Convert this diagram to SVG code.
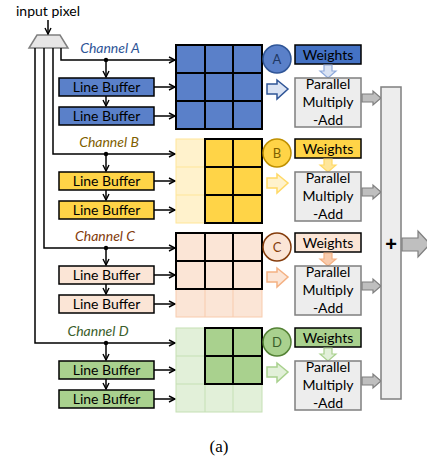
<svg xmlns="http://www.w3.org/2000/svg" width="427" height="462" viewBox="0 0 427 462">
<defs>
<marker id="ah" markerWidth="8" markerHeight="8" refX="7" refY="4" orient="auto" markerUnits="userSpaceOnUse">
<path d="M1,1 L7,4 L1,7" fill="none" stroke="#000" stroke-width="1.4"/>
</marker>
</defs>
<style>
text{font-family:Lato,"Liberation Sans",Arial,sans-serif;fill:#000}
.t{font-size:14px;text-anchor:middle}
.ch{font-size:14px;font-style:italic;text-anchor:middle}
.c{fill:none;stroke:#000;stroke-width:1.5}
.box{stroke:#000;stroke-width:1.5}
.gk{fill:none;stroke:#000;stroke-width:2}
.pma{fill:#EDEDED;stroke:#7F7F7F;stroke-width:1.5}
.garrow{fill:#BFBFBF;stroke:#7F7F7F;stroke-width:1.2}
.cl{font-size:13px;text-anchor:middle}
</style>

<g id="input">
<text x="48" y="16" class="t">input pixel</text>
</g>
<g id="mux">
<polygon points="37,35 60,35 68,48 29,48" fill="#E7E6E6" stroke="#7F7F7F" stroke-width="1.5"/>
</g>

<g id="connectors">
<line x1="48" y1="20" x2="48" y2="34" class="c" marker-end="url(#ah)"/>
<path d="M61,48 V60 H175" class="c" marker-end="url(#ah)"/>
<path d="M53,48 V154 H175" class="c" marker-end="url(#ah)"/>
<path d="M44,48 V248 H175" class="c" marker-end="url(#ah)"/>
<path d="M35,48 V343 H175" class="c" marker-end="url(#ah)"/>
<g transform="translate(0,0)">
<circle cx="106" cy="60" r="2.2" fill="#000"/>
<line x1="106" y1="60" x2="106" y2="77" class="c" marker-end="url(#ah)"/>
<line x1="106" y1="96" x2="106" y2="106" class="c" marker-end="url(#ah)"/>
<line x1="154" y1="87" x2="175" y2="87" class="c" marker-end="url(#ah)"/>
<line x1="154" y1="116" x2="175" y2="116" class="c" marker-end="url(#ah)"/>
</g>
<g transform="translate(0,94)">
<circle cx="106" cy="60" r="2.2" fill="#000"/>
<line x1="106" y1="60" x2="106" y2="77" class="c" marker-end="url(#ah)"/>
<line x1="106" y1="96" x2="106" y2="106" class="c" marker-end="url(#ah)"/>
<line x1="154" y1="87" x2="175" y2="87" class="c" marker-end="url(#ah)"/>
<line x1="154" y1="116" x2="175" y2="116" class="c" marker-end="url(#ah)"/>
</g>
<g transform="translate(0,188)">
<circle cx="106" cy="60" r="2.2" fill="#000"/>
<line x1="106" y1="60" x2="106" y2="77" class="c" marker-end="url(#ah)"/>
<line x1="106" y1="96" x2="106" y2="106" class="c" marker-end="url(#ah)"/>
<line x1="154" y1="87" x2="175" y2="87" class="c" marker-end="url(#ah)"/>
<line x1="154" y1="116" x2="175" y2="116" class="c" marker-end="url(#ah)"/>
</g>
<g transform="translate(0,283)">
<circle cx="106" cy="60" r="2.2" fill="#000"/>
<line x1="106" y1="60" x2="106" y2="77" class="c" marker-end="url(#ah)"/>
<line x1="106" y1="96" x2="106" y2="106" class="c" marker-end="url(#ah)"/>
<line x1="154" y1="87" x2="175" y2="87" class="c" marker-end="url(#ah)"/>
<line x1="154" y1="116" x2="175" y2="116" class="c" marker-end="url(#ah)"/>
</g>
</g>

<g id="channelA">
<text x="110" y="53" class="ch" style="fill:#2F5597">Channel A</text>
<rect x="59" y="78" width="95" height="18" fill="#5A80C9" class="box"/>
<text x="106.5" y="92" class="t">Line Buffer</text>
<rect x="59" y="107" width="95" height="18" fill="#5A80C9" class="box"/>
<text x="106.5" y="121" class="t">Line Buffer</text>
<rect x="176" y="45" width="86" height="84" fill="#5A80C9"/>
<path d="M176,45 H262 V129 H176 Z M205,45 V129 M233,45 V129 M176,73 H262 M176,101 H262" class="gk"/>
<circle cx="277" cy="59" r="14" fill="#5A80C9" stroke="#2F5597" stroke-width="1.5"/>
<text x="277" y="63.5" class="cl" style="fill:#1F3864">A</text>
<rect x="295" y="45" width="66" height="19" fill="#4472C4" class="box"/>
<text x="328" y="59.5" class="t">Weights</text>
<polygon points="324,65 332,65 332,71 336,71 328,78 320,71 324,71" fill="#DAE3F3" stroke="#8FAADC" stroke-width="1.2"/>
<polygon points="267,84 277,84 277,80 288,89 277,99 277,94 267,94" fill="#DAE3F3" stroke="#2F5597" stroke-width="1.5"/>
<rect x="295" y="78" width="66" height="49" class="pma"/>
<text x="328" y="89" class="t">Parallel</text>
<text x="328" y="107" class="t">Multiply</text>
<text x="328" y="125" class="t">-Add</text>
<polygon points="362,94 373,94 373,91 381,98 373,105 373,102 362,102" class="garrow"/>
</g>

<g id="channelB" transform="translate(0,94)">
<text x="109" y="53" class="ch" style="fill:#7F6000">Channel B</text>
<rect x="59" y="78" width="95" height="18" fill="#FFD447" class="box"/>
<text x="106.5" y="92" class="t">Line Buffer</text>
<rect x="59" y="107" width="95" height="18" fill="#FFD447" class="box"/>
<text x="106.5" y="121" class="t">Line Buffer</text>
<rect x="176" y="45" width="29" height="84" fill="#FFF2CC" stroke="#FFE699" stroke-width="1"/>
<path d="M176,73 H205 M176,101 H205" stroke="#FFE699" stroke-width="1"/>
<rect x="205" y="45" width="57" height="84" fill="#FFD447"/>
<path d="M205,45 H262 V129 H205 Z M233,45 V129 M205,73 H262 M205,101 H262" class="gk"/>
<circle cx="277" cy="59" r="14" fill="#FFD447" stroke="#BF9000" stroke-width="1.5"/>
<text x="277" y="63.5" class="cl" style="fill:#7F6000">B</text>
<rect x="295" y="45" width="66" height="19" fill="#FFD447" class="box"/>
<text x="328" y="59.5" class="t">Weights</text>
<polygon points="324,65 332,65 332,71 336,71 328,78 320,71 324,71" fill="#FFE699" stroke="#FFD966" stroke-width="1.2"/>
<polygon points="267,84 277,84 277,80 288,89 277,99 277,94 267,94" fill="#FFF2CC" stroke="#FFD966" stroke-width="1.5"/>
<rect x="295" y="78" width="66" height="49" class="pma"/>
<text x="328" y="89" class="t">Parallel</text>
<text x="328" y="107" class="t">Multiply</text>
<text x="328" y="125" class="t">-Add</text>
<polygon points="362,94 373,94 373,91 381,98 373,105 373,102 362,102" class="garrow"/>
</g>

<g id="channelC" transform="translate(0,188)">
<text x="105" y="53" class="ch" style="fill:#843C0C">Channel C</text>
<rect x="59" y="78" width="95" height="18" fill="#FBE5D6" class="box"/>
<text x="106.5" y="92" class="t">Line Buffer</text>
<rect x="59" y="107" width="95" height="18" fill="#FBE5D6" class="box"/>
<text x="106.5" y="121" class="t">Line Buffer</text>
<rect x="176" y="101" width="86" height="28" fill="#FBE5D6" stroke="#F8CBAD" stroke-width="1"/>
<path d="M205,101 V129 M233,101 V129" stroke="#F8CBAD" stroke-width="1"/>
<rect x="176" y="45" width="86" height="56" fill="#FBE5D6"/>
<path d="M176,45 H262 V101 H176 Z M205,45 V101 M233,45 V101 M176,73 H262" class="gk"/>
<circle cx="277" cy="59" r="14" fill="#FBE5D6" stroke="#843C0C" stroke-width="1.5"/>
<text x="277" y="63.5" class="cl" style="fill:#843C0C">C</text>
<rect x="295" y="45" width="66" height="19" fill="#FBE5D6" class="box"/>
<text x="328" y="59.5" class="t">Weights</text>
<polygon points="324,65 332,65 332,71 336,71 328,78 320,71 324,71" fill="#F8CBAD" stroke="#F4B183" stroke-width="1.2"/>
<polygon points="267,84 277,84 277,80 288,89 277,99 277,94 267,94" fill="#FBE5D6" stroke="#F4B183" stroke-width="1.5"/>
<rect x="295" y="78" width="66" height="49" class="pma"/>
<text x="328" y="89" class="t">Parallel</text>
<text x="328" y="107" class="t">Multiply</text>
<text x="328" y="125" class="t">-Add</text>
<polygon points="362,94 373,94 373,91 381,98 373,105 373,102 362,102" class="garrow"/>
</g>

<g id="channelD" transform="translate(0,283)">
<text x="98" y="53" class="ch" style="fill:#3B5E2B">Channel D</text>
<rect x="59" y="78" width="95" height="18" fill="#A9D18E" class="box"/>
<text x="106.5" y="92" class="t">Line Buffer</text>
<rect x="59" y="107" width="95" height="18" fill="#A9D18E" class="box"/>
<text x="106.5" y="121" class="t">Line Buffer</text>
<rect x="176" y="45" width="86" height="84" fill="#E2F0D9" stroke="#C5E0B4" stroke-width="1"/>
<path d="M205,45 V129 M233,45 V129 M176,73 H262 M176,101 H262" stroke="#C5E0B4" stroke-width="1"/>
<rect x="205" y="45" width="57" height="56" fill="#A9D18E"/>
<path d="M205,45 H262 V101 H205 Z M233,45 V101 M205,73 H262" class="gk"/>
<circle cx="277" cy="59" r="14" fill="#A9D18E" stroke="#548235" stroke-width="1.5"/>
<text x="277" y="63.5" class="cl" style="fill:#3B5E2B">D</text>
<rect x="295" y="45" width="66" height="19" fill="#A9D18E" class="box"/>
<text x="328" y="59.5" class="t">Weights</text>
<polygon points="324,65 332,65 332,71 336,71 328,78 320,71 324,71" fill="#E2F0D9" stroke="#A9D18E" stroke-width="1.2"/>
<polygon points="267,84 277,84 277,80 288,89 277,99 277,94 267,94" fill="#E2F0D9" stroke="#A9D18E" stroke-width="1.5"/>
<rect x="295" y="78" width="66" height="49" class="pma"/>
<text x="328" y="89" class="t">Parallel</text>
<text x="328" y="107" class="t">Multiply</text>
<text x="328" y="125" class="t">-Add</text>
<polygon points="362,94 373,94 373,91 381,98 373,105 373,102 362,102" class="garrow"/>
</g>

<g id="adder">
<rect x="381" y="87" width="20" height="312" class="pma"/>
<text x="391" y="251" style="font-family:'Liberation Sans',Arial,sans-serif;font-size:20px;font-weight:bold;text-anchor:middle">+</text>
<polygon points="402,238 418,238 418,231 430,244 418,257 418,251 402,251" class="garrow"/>
</g>

<g id="caption">
<text x="219" y="452" style="font-family:'Liberation Serif',serif;font-size:17px;text-anchor:middle">(a)</text>
</g>
</svg>
